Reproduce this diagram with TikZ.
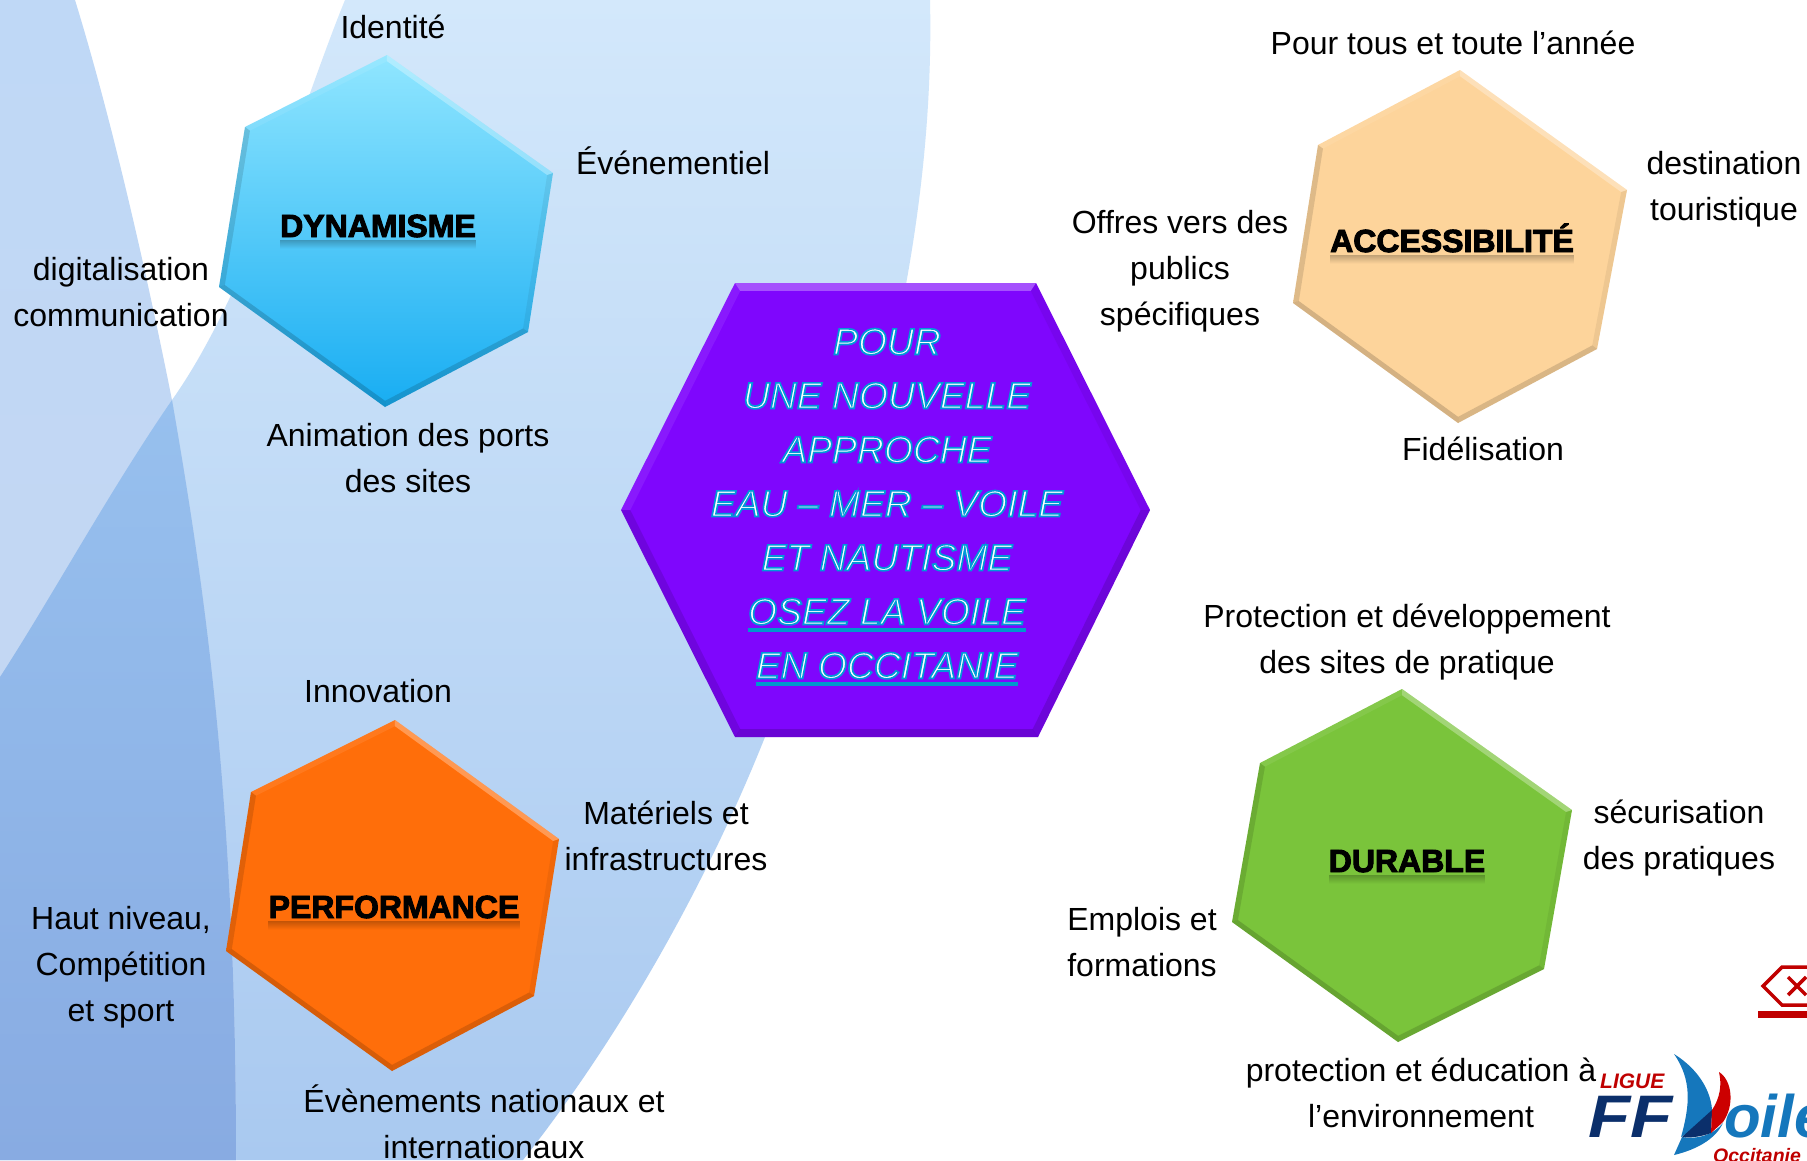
\documentclass[tikz,border=0pt]{standalone}
\usepackage{fontspec}
\setmainfont{Liberation Sans}
\newfontfamily\headfont[BoldFeatures={FakeBold=3}]{Liberation Sans}
\newfontfamily\slogan[ItalicFeatures={FakeBold=4.5}]{Liberation Sans}
\usetikzlibrary{calc}
\usetikzlibrary{fadings}
\definecolor{barblue}{HTML}{0098CC}
\definecolor{logored}{HTML}{C00000}
\definecolor{navy}{HTML}{0B2F6B}
\definecolor{sailblue}{HTML}{1577BC}
\definecolor{bandtop}{HTML}{D3E8FB}
\definecolor{bandmid}{HTML}{BAD9F8}
\definecolor{bandbot}{HTML}{A9C9F0}
\definecolor{swoshtop}{HTML}{BFD8F6}
\definecolor{swoshbot}{HTML}{C6D6F0}
\definecolor{laptop}{HTML}{97C0EE}
\definecolor{lapbot}{HTML}{88ABE2}
\definecolor{dynatop}{HTML}{90E6FF}
\definecolor{dynabot}{HTML}{18ADF2}
\definecolor{accecol}{HTML}{FDD49B}
\definecolor{perfcol}{HTML}{FF6E0A}
\definecolor{duracol}{HTML}{7AC43B}
\definecolor{maincol}{HTML}{7F06FD}
\newcommand{\outl}[1]{\special{pdf:bcolor [1 1 1] [0 .6 .85]}#1\special{pdf:ecolor}}
\newlength\barlen
\newcommand{\barred}[1]{\settowidth\barlen{#1}\rlap{\textcolor{barblue}{\rule[-7pt]{\barlen}{3.5pt}}}\outl{#1}}
\newcommand{\bandpath}{(345,0) -- (930,0) .. controls (935,220) and (880,470) .. (765,737) .. controls (700,900) and (610,1050) .. (523,1160) -- (0,1160) -- (0,677) .. controls (50,600) and (110,490) .. (172,400) .. controls (250,290) and (300,110) .. (345,0) -- cycle}
\newcommand{\swooshpath}{(0,0) -- (75,0) .. controls (115,130) and (150,290) .. (172,400) .. controls (205,590) and (236,800) .. (236,1160) -- (0,1160) -- cycle}
% six corners named #1-1..#1-6, centre #1c, then the two colours of the face
\newcommand{\hexface}[3]{
    \shade[top color=#2,bottom color=#3] (#1-1) -- (#1-2) -- (#1-3) -- (#1-4) -- (#1-5) -- (#1-6) -- cycle;
    \foreach \i/\j/\tone/\alpha in {1/2/white/.3,2/3/black/.06,3/4/black/.14,4/5/black/.16,5/6/black/.12,6/1/white/.08}
        \fill[\tone,opacity=\alpha] (#1-\i) -- (#1-\j) -- ($(#1c)!0.965!(#1-\j)$) -- ($(#1c)!0.965!(#1-\i)$) -- cycle;
}
\tikzset{
    txt/.style={align=center,text=black,font=\fontsize{32}{46}\selectfont,inner sep=0pt},
    head/.style={anchor=base,text=black,font=\headfont\bfseries\fontsize{32}{38}\selectfont,inner sep=0pt},
    glow/.style={black,opacity=.25,path fading=south},
    slogantxt/.style={align=center,inner sep=0pt,font=\slogan\itshape\fontsize{37.3}{54}\selectfont},
    logotxt/.style={anchor=base west,inner sep=0pt,font=\bfseries\itshape\fontsize{#1}{#1}\selectfont}
}
\begin{document}
\begin{tikzpicture}[x=1pt,y=-1pt]
    \useasboundingbox (0,0) rectangle (1807,1160);
    \fill[white] (0,0) rectangle (1807,1160);

    % background
    \shade[top color=bandtop,middle color=bandmid,bottom color=bandbot] \bandpath;
    \shade[top color=swoshtop,bottom color=swoshbot] \swooshpath;
    \begin{scope}
        \clip \swooshpath;
        \clip \bandpath;
        \shade[top color=laptop,bottom color=lapbot] (0,400) rectangle (240,1160);
    \end{scope}

    % corners of the hexagons
    \foreach \n/\p in {1/{395,720},2/{559,839},3/{534,996},4/{392,1071},5/{226,951},6/{251,792}}
        \coordinate (perf-\n) at (\p);
    \foreach \n/\p in {1/{387,55},2/{553,173},3/{528,332},4/{385,407},5/{219,287},6/{245,127}}
        \coordinate (dyna-\n) at (\p);
    \foreach \n/\p in {1/{1460,70},2/{1627,190},3/{1597,349},4/{1458,423},5/{1293,303},6/{1318,145}}
        \coordinate (acce-\n) at (\p);
    \foreach \n/\p in {1/{1402,689},2/{1572,810},3/{1544,969},4/{1398,1042},5/{1232,922},6/{1260,763}}
        \coordinate (dura-\n) at (\p);
    \foreach \n/\p in {1/{735,283},2/{1036,283},3/{1150,510},4/{1038,737},5/{735,737},6/{621,510}}
        \coordinate (main-\n) at (\p);
    \coordinate (perfc) at (393,896);
    \coordinate (dynac) at (386,231);
    \coordinate (accec) at (1460,247);
    \coordinate (durac) at (1402,866);
    \coordinate (mainc) at (885,510);

    \hexface{dyna}{dynatop}{dynabot}
    \hexface{acce}{accecol}{accecol}
    \hexface{perf}{perfcol}{perfcol}
    \hexface{dura}{duracol}{duracol}
    \hexface{main}{maincol}{maincol}

    % titles of the hexagons
    \node[head] (dynamisme) at (378,237) {DYNAMISME};
    \node[head] (accessibilite) at (1452,252) {ACCESSIBILITÉ};
    \node[head] (durable) at (1407,872) {DURABLE};
    \node[head] (performance) at (394,918) {PERFORMANCE};
    \foreach \t in {dynamisme,accessibilite,durable,performance}
        \fill[glow] ([yshift=-2pt]\t.south west) rectangle ([yshift=-11pt]\t.south east);

    % centre
    \node[slogantxt] (approche) at (887,507) {\outl{POUR}\\
        \outl{UNE NOUVELLE}\\
        \outl{APPROCHE}\\
        \outl{EAU – MER – VOILE}\\
        \outl{ET NAUTISME}\\
        \barred{OSEZ LA VOILE}\\
        \barred{EN OCCITANIE}};

    % labels
    \node[txt] (identite) at (393,27) {Identité};
    \node[txt] (evenementiel) at (673,161) {Événementiel};
    \node[txt] (digital) at (121,292) {digitalisation\\communication};
    \node[txt] (animation) at (408,458) {Animation des ports\\des sites};
    \node[txt] (pourtous) at (1453,43) {Pour tous et toute l’année};
    \node[txt] (destination) at (1724,189) {destination\\touristique};
    \node[txt] (offres) at (1180,271) {Offres vers des\\publics\\spécifiques};
    \node[txt] (fidelisation) at (1483,449) {Fidélisation};
    \node[txt] (protection) at (1407,642) {Protection et développement\\des sites de pratique};
    \node[txt] (securisation) at (1679,838) {sécurisation\\des pratiques};
    \node[txt] (emplois) at (1142,942) {Emplois et\\formations};
    \node[txt] (education) at (1421,1093) {protection et éducation à\\l’environnement};
    \node[txt] (innovation) at (378,691) {Innovation};
    \node[txt] (materiels) at (666,836) {Matériels et\\infrastructures};
    \node[txt] (hautniveau) at (121,967) {Haut niveau,\\Compétition\\et sport};
    \node[txt] (evenements) at (484,1122) {Évènements nationaux et\\internationaux};

    % red mark at the right edge
    \draw[logored,line width=3.5pt] (1815,967) -- (1782,967) -- (1763,986) -- (1782,1005) -- (1815,1005);
    \draw[logored,line width=3.5pt] (1788,977) -- (1806,995);
    \draw[logored,line width=3.5pt] (1806,977) -- (1788,995);
    \fill[logored] (1758,1011) rectangle (1810,1018);

    % logo
    \node[logotxt=21,text=red!75!black] (ligue) at (1600,1088) {LIGUE};
    \node[logotxt=60,text=navy] (ff) at (1588,1137) {\scalebox{1.15}[1]{FF}};
    \fill[sailblue] (1674,1054) .. controls (1700,1070) and (1714,1095) .. (1712,1118) -- (1681,1137) .. controls (1690,1105) and (1692,1080) .. (1674,1054) -- cycle;
    \fill[sailblue] (1682,1137) .. controls (1700,1140) and (1715,1133) .. (1723,1123) .. controls (1715,1140) and (1695,1150) .. (1674,1155) -- cycle;
    \fill[navy] (1682,1137) -- (1712,1110) -- (1711,1133) .. controls (1700,1137) and (1690,1138) .. (1682,1137) -- cycle;
    \fill[red!80!black] (1719,1072) .. controls (1732,1080) and (1735,1105) .. (1723,1122) -- (1711,1133) -- (1712,1110) .. controls (1720,1098) and (1722,1085) .. (1719,1072) -- cycle;
    \node[logotxt=60,text=sailblue] (oile) at (1724,1137) {oile};
    \node[logotxt=19.5,text=red!75!black] (occitanie) at (1713,1162) {Occitanie};
\end{tikzpicture}
\end{document}
